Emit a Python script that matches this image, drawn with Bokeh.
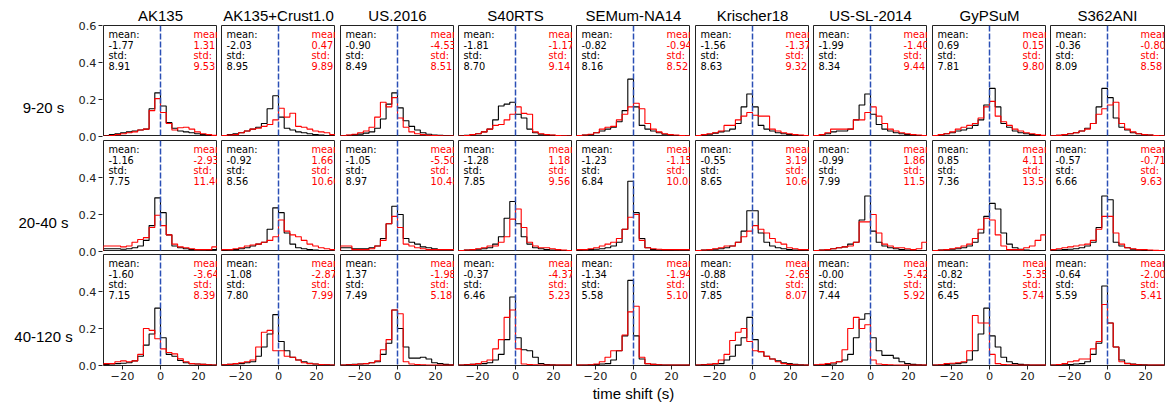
import numpy as np
from bokeh.plotting import figure
from bokeh.layouts import row, column
from bokeh.models import FixedTicker, Span, LinearAxis
from bokeh.core.properties import value
from bokeh.embed import file_html
from bokeh.resources import INLINE

models = ["AK135", "AK135+Crust1.0", "US.2016", "S40RTS", "SEMum-NA14",
          "Krischer18", "US-SL-2014", "GyPSuM", "S362ANI"]
periods = ["9-20 s", "20-40 s", "40-120 s"]
# the top row carries the 0.6 label, the lower rows stop at 0.4
y_ticks_top = [0.0, 0.2, 0.4, 0.6]
y_ticks_lower = [0.0, 0.2, 0.4]
x_ticks = [-20, 0, 20]

# histogram bins of 3 s from -30 to 30 s
bin_edges = np.arange(-30, 31, 3)

# fraction of measurements per bin, one list per model (9-20 s)
h920_black = [
    [0.005, 0.010, 0.015, 0.020, 0.025, 0.030, 0.035, 0.040, 0.150, 0.236, 0.165, 0.075, 0.045, 0.030, 0.025, 0.020, 0.015, 0.010, 0.006, 0.004],
    [0.005, 0.010, 0.015, 0.020, 0.030, 0.040, 0.050, 0.070, 0.150, 0.220, 0.105, 0.045, 0.035, 0.025, 0.020, 0.015, 0.010, 0.008, 0.005, 0.004],
    [0.004, 0.006, 0.010, 0.013, 0.018, 0.025, 0.045, 0.095, 0.175, 0.236, 0.155, 0.085, 0.055, 0.035, 0.020, 0.012, 0.008, 0.006, 0.004, 0.003],
    [0.004, 0.006, 0.010, 0.015, 0.025, 0.040, 0.090, 0.165, 0.175, 0.185, 0.120, 0.100, 0.040, 0.020, 0.012, 0.008, 0.006, 0.004, 0.003, 0.002],
    [0.005, 0.008, 0.010, 0.020, 0.030, 0.040, 0.050, 0.080, 0.140, 0.310, 0.160, 0.060, 0.040, 0.030, 0.020, 0.012, 0.008, 0.005, 0.004, 0.003],
    [0.005, 0.008, 0.012, 0.018, 0.025, 0.030, 0.040, 0.070, 0.160, 0.230, 0.160, 0.060, 0.040, 0.030, 0.020, 0.015, 0.010, 0.008, 0.005, 0.004],
    [0.005, 0.010, 0.015, 0.025, 0.030, 0.030, 0.040, 0.090, 0.170, 0.230, 0.120, 0.065, 0.040, 0.030, 0.020, 0.015, 0.010, 0.008, 0.005, 0.004],
    [0.005, 0.010, 0.015, 0.020, 0.030, 0.035, 0.045, 0.060, 0.090, 0.170, 0.260, 0.160, 0.070, 0.050, 0.030, 0.020, 0.015, 0.010, 0.006, 0.004],
    [0.004, 0.006, 0.010, 0.015, 0.020, 0.030, 0.045, 0.070, 0.160, 0.260, 0.210, 0.100, 0.050, 0.035, 0.020, 0.015, 0.010, 0.008, 0.005, 0.004],
]
h920_red = [
    [0.003, 0.005, 0.010, 0.015, 0.020, 0.025, 0.035, 0.040, 0.140, 0.205, 0.130, 0.070, 0.035, 0.047, 0.050, 0.040, 0.025, 0.015, 0.010, 0.006],
    [0.005, 0.008, 0.010, 0.020, 0.030, 0.040, 0.045, 0.055, 0.065, 0.090, 0.153, 0.105, 0.126, 0.055, 0.050, 0.040, 0.030, 0.025, 0.020, 0.010],
    [0.004, 0.008, 0.012, 0.020, 0.030, 0.050, 0.105, 0.185, 0.160, 0.210, 0.100, 0.050, 0.025, 0.015, 0.010, 0.007, 0.005, 0.004, 0.003, 0.002],
    [0.003, 0.005, 0.010, 0.015, 0.025, 0.040, 0.060, 0.065, 0.090, 0.120, 0.160, 0.125, 0.120, 0.025, 0.015, 0.010, 0.008, 0.005, 0.004, 0.003],
    [0.005, 0.008, 0.012, 0.020, 0.040, 0.050, 0.055, 0.090, 0.120, 0.160, 0.180, 0.150, 0.070, 0.040, 0.025, 0.015, 0.010, 0.008, 0.005, 0.004],
    [0.005, 0.010, 0.015, 0.020, 0.030, 0.060, 0.060, 0.090, 0.110, 0.130, 0.115, 0.110, 0.110, 0.040, 0.030, 0.020, 0.015, 0.010, 0.008, 0.005],
    [0.005, 0.010, 0.020, 0.040, 0.040, 0.040, 0.040, 0.090, 0.090, 0.130, 0.160, 0.110, 0.070, 0.040, 0.030, 0.020, 0.015, 0.010, 0.008, 0.005],
    [0.005, 0.010, 0.015, 0.025, 0.040, 0.050, 0.060, 0.070, 0.100, 0.160, 0.190, 0.110, 0.080, 0.060, 0.040, 0.030, 0.020, 0.015, 0.010, 0.006],
    [0.004, 0.006, 0.010, 0.015, 0.020, 0.030, 0.040, 0.070, 0.120, 0.150, 0.170, 0.185, 0.070, 0.040, 0.025, 0.015, 0.010, 0.008, 0.005, 0.004],
]

# 20-40 s
h2040_black = [
    [0.015, 0.015, 0.015, 0.012, 0.015, 0.020, 0.030, 0.060, 0.140, 0.290, 0.210, 0.090, 0.030, 0.020, 0.015, 0.010, 0.010, 0.008, 0.006, 0.010],
    [0.005, 0.008, 0.010, 0.015, 0.020, 0.030, 0.040, 0.050, 0.120, 0.236, 0.210, 0.100, 0.040, 0.020, 0.015, 0.010, 0.008, 0.005, 0.004, 0.003],
    [0.020, 0.020, 0.015, 0.015, 0.015, 0.020, 0.030, 0.070, 0.150, 0.245, 0.200, 0.070, 0.050, 0.040, 0.025, 0.020, 0.015, 0.010, 0.010, 0.010],
    [0.005, 0.008, 0.010, 0.012, 0.015, 0.020, 0.040, 0.080, 0.180, 0.270, 0.150, 0.080, 0.040, 0.020, 0.015, 0.010, 0.008, 0.006, 0.004, 0.003],
    [0.005, 0.008, 0.010, 0.012, 0.015, 0.020, 0.030, 0.050, 0.120, 0.380, 0.210, 0.070, 0.020, 0.010, 0.008, 0.006, 0.005, 0.004, 0.003, 0.003],
    [0.005, 0.008, 0.010, 0.012, 0.015, 0.020, 0.030, 0.050, 0.110, 0.220, 0.220, 0.100, 0.050, 0.030, 0.020, 0.015, 0.010, 0.008, 0.006, 0.004],
    [0.005, 0.008, 0.010, 0.015, 0.020, 0.025, 0.040, 0.050, 0.170, 0.300, 0.110, 0.050, 0.030, 0.020, 0.015, 0.010, 0.008, 0.006, 0.004, 0.003],
    [0.005, 0.008, 0.010, 0.012, 0.015, 0.020, 0.030, 0.050, 0.100, 0.190, 0.260, 0.230, 0.100, 0.040, 0.020, 0.012, 0.008, 0.005, 0.004, 0.003],
    [0.005, 0.008, 0.010, 0.012, 0.015, 0.020, 0.030, 0.050, 0.130, 0.300, 0.280, 0.050, 0.030, 0.020, 0.012, 0.008, 0.006, 0.004, 0.003, 0.002],
]
h2040_red = [
    [0.030, 0.030, 0.030, 0.025, 0.030, 0.050, 0.065, 0.075, 0.130, 0.196, 0.140, 0.090, 0.040, 0.025, 0.020, 0.015, 0.010, 0.010, 0.010, 0.025],
    [0.010, 0.010, 0.015, 0.020, 0.030, 0.035, 0.040, 0.050, 0.060, 0.080, 0.170, 0.110, 0.090, 0.080, 0.060, 0.040, 0.030, 0.020, 0.015, 0.010],
    [0.030, 0.030, 0.010, 0.010, 0.010, 0.015, 0.030, 0.060, 0.150, 0.190, 0.130, 0.040, 0.030, 0.020, 0.015, 0.010, 0.010, 0.010, 0.010, 0.010],
    [0.005, 0.008, 0.010, 0.015, 0.020, 0.030, 0.030, 0.050, 0.080, 0.175, 0.230, 0.130, 0.050, 0.030, 0.020, 0.020, 0.015, 0.010, 0.008, 0.005],
    [0.010, 0.010, 0.015, 0.020, 0.030, 0.040, 0.050, 0.070, 0.120, 0.185, 0.200, 0.060, 0.020, 0.015, 0.012, 0.010, 0.010, 0.010, 0.010, 0.010],
    [0.005, 0.008, 0.010, 0.015, 0.020, 0.030, 0.030, 0.050, 0.080, 0.110, 0.140, 0.120, 0.100, 0.070, 0.050, 0.040, 0.020, 0.015, 0.010, 0.010],
    [0.005, 0.008, 0.010, 0.015, 0.020, 0.025, 0.030, 0.050, 0.160, 0.160, 0.200, 0.100, 0.040, 0.030, 0.020, 0.020, 0.015, 0.010, 0.015, 0.050],
    [0.005, 0.008, 0.010, 0.015, 0.020, 0.030, 0.040, 0.070, 0.120, 0.180, 0.170, 0.090, 0.030, 0.010, 0.010, 0.010, 0.020, 0.030, 0.060, 0.090],
    [0.010, 0.015, 0.020, 0.025, 0.030, 0.035, 0.040, 0.060, 0.120, 0.190, 0.190, 0.100, 0.040, 0.020, 0.015, 0.010, 0.010, 0.008, 0.006, 0.005],
]

# 40-120 s
h40120_black = [
    [0.005, 0.008, 0.010, 0.012, 0.015, 0.025, 0.050, 0.110, 0.170, 0.310, 0.150, 0.060, 0.050, 0.027, 0.015, 0.010, 0.008, 0.006, 0.004, 0.003],
    [0.004, 0.006, 0.008, 0.010, 0.015, 0.020, 0.050, 0.100, 0.170, 0.275, 0.130, 0.080, 0.045, 0.030, 0.020, 0.012, 0.008, 0.005, 0.004, 0.003],
    [0.003, 0.005, 0.006, 0.008, 0.010, 0.015, 0.020, 0.060, 0.120, 0.300, 0.200, 0.100, 0.040, 0.040, 0.045, 0.035, 0.015, 0.010, 0.006, 0.004],
    [0.003, 0.005, 0.006, 0.008, 0.010, 0.015, 0.030, 0.060, 0.140, 0.370, 0.150, 0.085, 0.080, 0.045, 0.010, 0.005, 0.004, 0.003, 0.002, 0.002],
    [0.002, 0.003, 0.004, 0.005, 0.008, 0.010, 0.030, 0.080, 0.160, 0.460, 0.160, 0.035, 0.010, 0.006, 0.004, 0.003, 0.002, 0.002, 0.002, 0.002],
    [0.003, 0.005, 0.006, 0.008, 0.010, 0.030, 0.050, 0.110, 0.150, 0.260, 0.140, 0.075, 0.050, 0.035, 0.025, 0.015, 0.010, 0.006, 0.004, 0.003],
    [0.003, 0.004, 0.005, 0.008, 0.020, 0.030, 0.060, 0.150, 0.250, 0.280, 0.150, 0.080, 0.055, 0.055, 0.040, 0.020, 0.010, 0.006, 0.004, 0.003],
    [0.003, 0.004, 0.005, 0.008, 0.010, 0.015, 0.030, 0.080, 0.170, 0.310, 0.160, 0.100, 0.045, 0.020, 0.010, 0.006, 0.004, 0.003, 0.002, 0.002],
    [0.002, 0.003, 0.004, 0.005, 0.008, 0.010, 0.020, 0.060, 0.120, 0.430, 0.230, 0.100, 0.030, 0.012, 0.008, 0.005, 0.004, 0.003, 0.002, 0.002],
]
h40120_red = [
    [0.010, 0.010, 0.020, 0.025, 0.020, 0.025, 0.060, 0.200, 0.190, 0.145, 0.090, 0.070, 0.063, 0.036, 0.020, 0.010, 0.008, 0.006, 0.004, 0.003],
    [0.004, 0.006, 0.010, 0.015, 0.020, 0.030, 0.100, 0.180, 0.190, 0.080, 0.080, 0.050, 0.045, 0.030, 0.015, 0.010, 0.008, 0.005, 0.004, 0.003],
    [0.003, 0.004, 0.005, 0.008, 0.010, 0.015, 0.025, 0.085, 0.140, 0.300, 0.280, 0.020, 0.008, 0.005, 0.004, 0.003, 0.002, 0.002, 0.002, 0.002],
    [0.003, 0.004, 0.006, 0.010, 0.020, 0.030, 0.090, 0.140, 0.260, 0.300, 0.090, 0.008, 0.005, 0.004, 0.003, 0.002, 0.002, 0.002, 0.002, 0.002],
    [0.002, 0.003, 0.004, 0.008, 0.020, 0.045, 0.080, 0.080, 0.165, 0.290, 0.320, 0.045, 0.010, 0.006, 0.004, 0.003, 0.002, 0.002, 0.002, 0.002],
    [0.003, 0.004, 0.006, 0.010, 0.030, 0.060, 0.135, 0.180, 0.200, 0.130, 0.080, 0.075, 0.050, 0.035, 0.020, 0.010, 0.006, 0.004, 0.003, 0.002],
    [0.004, 0.006, 0.010, 0.015, 0.020, 0.085, 0.200, 0.260, 0.200, 0.220, 0.030, 0.008, 0.005, 0.004, 0.003, 0.002, 0.002, 0.002, 0.002, 0.002],
    [0.003, 0.004, 0.010, 0.012, 0.015, 0.020, 0.080, 0.270, 0.230, 0.230, 0.060, 0.010, 0.005, 0.004, 0.003, 0.002, 0.002, 0.002, 0.002, 0.002],
    [0.003, 0.005, 0.010, 0.020, 0.025, 0.035, 0.035, 0.090, 0.130, 0.330, 0.230, 0.100, 0.020, 0.010, 0.006, 0.004, 0.003, 0.002, 0.002, 0.002],
]

# summary statistics printed in each panel
mean_black = [
    [-1.77, -2.03, -0.90, -1.81, -0.82, -1.56, -1.99, 0.69, -0.36],
    [-1.16, -0.92, -1.05, -1.28, -1.23, -0.55, -0.99, 0.85, -0.57],
    [-1.60, -1.08, 1.37, -0.37, -1.34, -0.88, -0.00, -0.82, -0.64],
]
std_black = [
    [8.91, 8.95, 8.49, 8.70, 8.16, 8.63, 8.34, 7.81, 8.09],
    [7.75, 8.56, 8.97, 7.85, 6.84, 8.65, 7.99, 7.36, 6.66],
    [7.15, 7.80, 7.49, 6.46, 5.58, 7.85, 7.44, 6.45, 5.59],
]
mean_red = [
    [1.31, 0.47, -4.53, -1.17, -0.94, -1.37, -1.40, 0.15, -0.80],
    [-2.93, 1.66, -5.50, 1.18, -1.15, 3.19, 1.86, 4.11, -0.71],
    [-3.64, -2.87, -1.98, -4.37, -1.94, -2.65, -5.42, -5.35, -2.00],
]
std_red = [
    [9.53, 9.89, 8.51, 9.14, 8.52, 9.32, 9.44, 9.80, 8.58],
    [11.46, 10.60, 10.48, 9.56, 10.05, 10.60, 11.51, 13.59, 9.63],
    [8.39, 7.99, 5.18, 5.23, 5.10, 8.07, 5.92, 5.74, 5.41],
]

hist_black = [h920_black, h2040_black, h40120_black]
hist_red = [h920_red, h2040_red, h40120_red]

FONT = "DejaVu Sans"
HEAD_FONT = "Liberation Sans"
FRAME_W, FRAME_H = 114, 111
Y_MAX = 0.6
LABEL_W, AXIS_W = 74, 29
gaps = [0, 4, 5, 4, 4, 5, 4, 5, 4]
top_borders = [25, 4, 3]
bottom_borders = [0, 0, 40]
RED = "#ff0000"
BLUE = "#2a4fb5"
INK = "#222222"

# vertical pixel layout shared by all rows (top of each frame, from the page top)
row_tops = [top_borders[0]]
for r in range(1, len(periods)):
    row_tops.append(row_tops[-1] + FRAME_H + top_borders[r])
grid_top = row_tops[0]
grid_bottom = row_tops[-1] + FRAME_H
grid_h = grid_bottom - grid_top
px_per_unit = FRAME_H / Y_MAX


def step_xy(heights):
    h = np.asarray(heights, dtype=float)
    xs = np.repeat(bin_edges, 2)
    ys = np.concatenate([[0.0], np.repeat(h, 2), [0.0]])
    return xs, ys


def fmt(v):
    return f"{v:.2f}"


def panel(r, c):
    last_row = r == len(periods) - 1
    p = figure(
        frame_width=FRAME_W, frame_height=FRAME_H,
        x_range=(-30, 30), y_range=(0, Y_MAX),
        x_axis_location="below" if last_row else None,
        y_axis_location=None,
        toolbar_location=None, output_backend="svg",
        min_border_left=gaps[c], min_border_right=1 if c == len(models) - 1 else 0,
        min_border_top=top_borders[r], min_border_bottom=bottom_borders[r],
        outline_line_color=INK, outline_line_width=1,
        background_fill_color="white", border_fill_color="white",
    )
    p.grid.visible = False

    if r == 0:
        p.title.text = models[c]
        p.title.align = "center"
        p.title.text_font = HEAD_FONT
        p.title.text_font_size = "15px"
        p.title.text_font_style = "normal"
        p.title.text_color = "black"
        p.title.standoff = 3

    if last_row:
        ax = p.xaxis[0]
        ax.ticker = FixedTicker(ticks=x_ticks)
        ax.major_label_overrides = {t: f"{t}".replace("-", "\u2212") for t in x_ticks}
        ax.minor_tick_line_color = None
        ax.major_tick_out = 4
        ax.major_tick_in = 0
        ax.axis_line_color = None
        ax.major_tick_line_color = INK
        ax.major_label_standoff = 2
        ax.major_label_text_font = FONT
        ax.major_label_text_font_size = "11.3px"
        ax.major_label_text_color = INK
        if c == len(models) // 2:
            ax.axis_label = "time shift (s)"
            ax.axis_label_standoff = 2
            ax.axis_label_text_font = HEAD_FONT
            ax.axis_label_text_font_size = "15px"
            ax.axis_label_text_font_style = "normal"
            ax.axis_label_text_color = "black"

    xb, yb = step_xy(hist_black[r][c])
    xr, yr = step_xy(hist_red[r][c])
    p.line(xb, yb, line_color="black", line_width=1.1)
    p.line(xr, yr, line_color=RED, line_width=1.1)

    p.add_layout(Span(location=0, dimension="height", line_color=BLUE,
                      line_width=1.5, line_dash="6 2"))

    offsets = [8.5, 19, 29.5, 40]
    p.text(x=[-30] * 4, y=[Y_MAX] * 4,
           text=["mean:", fmt(mean_black[r][c]), "std:", fmt(std_black[r][c])],
           x_offset=5, y_offset=offsets, text_align="left", text_baseline="middle",
           text_font=value(FONT), text_font_size="9.8px", text_color="black")
    p.text(x=[-30] * 4, y=[Y_MAX] * 4,
           text=["mean:", fmt(mean_red[r][c]), "std:", fmt(std_red[r][c])],
           x_offset=90, y_offset=offsets, text_align="left", text_baseline="middle",
           text_font=value(FONT), text_font_size="9.8px", text_color=RED)
    return p


total_h = grid_bottom + bottom_borders[-1]

# period labels at the left, one per row of panels
labels = figure(
    frame_width=LABEL_W, frame_height=total_h,
    x_range=(0, LABEL_W), y_range=(total_h, 0),
    x_axis_location=None, y_axis_location=None,
    toolbar_location=None, output_backend="svg",
    min_border=0, outline_line_color=None,
)
labels.grid.visible = False
labels.text(x=[43] * len(periods), y=[t + FRAME_H / 2 + 1.5 for t in row_tops],
            text=periods, text_align="center", text_baseline="middle",
            text_font=value(HEAD_FONT), text_font_size="15px", text_color="black")

# shared y axis for the three rows of panels: each row is mapped onto
# a pixel-sized coordinate running up from the bottom of the last row
tick_pos = []
tick_txt = {}
for r in range(len(periods)):
    base = grid_bottom - (row_tops[r] + FRAME_H)
    for v in (y_ticks_top if r == 0 else y_ticks_lower):
        pos = round(base + v * px_per_unit, 3)
        tick_pos.append(pos)
        tick_txt[pos] = f"{v:.1f}"

yaxis_fig = figure(
    frame_width=1, frame_height=grid_h,
    x_range=(0, 1), y_range=(0, grid_h),
    x_axis_location=None, y_axis_location=None,
    toolbar_location=None, output_backend="svg",
    min_border_left=AXIS_W - 1, min_border_right=0,
    min_border_top=grid_top, min_border_bottom=bottom_borders[-1],
    outline_line_color=None,
)
yaxis_fig.grid.visible = False
ay = LinearAxis(ticker=FixedTicker(ticks=tick_pos), major_label_overrides=tick_txt)
ay.minor_tick_line_color = None
ay.major_tick_out = 4
ay.major_tick_in = 0
ay.axis_line_color = None
ay.major_tick_line_color = INK
ay.major_label_standoff = 2
ay.major_label_text_font = FONT
ay.major_label_text_font_size = "11.3px"
ay.major_label_text_color = INK
yaxis_fig.add_layout(ay, "left")

rows = []
for r in range(len(periods)):
    rows.append(row([panel(r, c) for c in range(len(models))], spacing=0))

layout = row([labels, yaxis_fig, column(rows, spacing=0)], spacing=0)

with open("out.html", "w") as f:
    f.write(file_html(layout, INLINE))
